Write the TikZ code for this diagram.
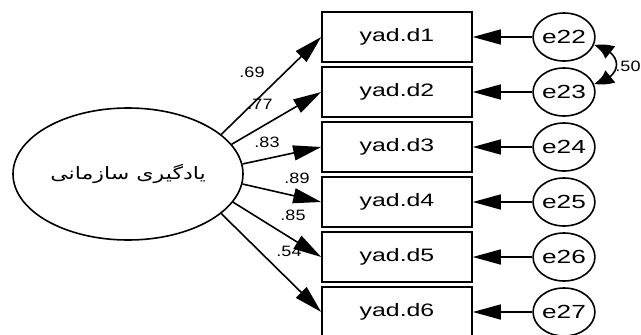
\documentclass[tikz,border=0pt]{standalone}
\usepackage{graphicx}
\usepackage{fontspec}
\setmainfont{Liberation Sans}
\newfontfamily\arabicfont[Script=Arabic]{DejaVu Sans}
\TeXXeTstate=1
\usetikzlibrary{arrows.meta,shapes.geometric,bending}
\newcommand\sxa[1]{\scalebox{1.38}[1]{#1}}
\newcommand\sxb[1]{\scalebox{1.2}[1]{#1}}
\begin{document}
\begin{tikzpicture}[x=1pt,y=-1pt,
  lat/.style={ellipse, draw, line width=1.6pt, minimum width=230pt, minimum height=132pt, inner sep=0pt},
  obs/.style={draw, line width=1.6pt, minimum width=150pt, minimum height=50pt, inner sep=0pt, font=\fontsize{18}{18}\selectfont},
  err/.style={ellipse, draw, line width=1.6pt, minimum width=56pt, minimum height=48pt, inner sep=0pt, font=\fontsize{19}{19}\selectfont},
  load/.style={line width=1.6pt, -{Triangle[length=28pt,width=15pt]}},
  coef/.style={inner sep=0pt, font=\fontsize{15}{15}\selectfont}]
\useasboundingbox (0,0) rectangle (641,335);
\node[lat] (lv) at (128,174) {\scalebox{1.3}[1]{\arabicfont\fontsize{17}{17}\selectfont\beginR یادگیری سازمانی\endR}};
\foreach \i/\y in {1/37,2/92,3/147,4/202,5/257,6/312}{
  \node[obs] (d\i) at (397,\y) {\sxa{yad.d\i}};
}
\foreach \i/\n/\y in {1/22/37,2/23/92,3/24/147,4/25/202,5/26/257,6/27/312}{
  \node[err] (e\n) at (564,\y) {\sxa{e\n}};
  \draw[load] (e\n) -- (d\i);
}
\draw[load] (lv.23.6) -- (d1.west);
\draw[load] (lv.16.6) -- (d2.west);
\draw[load] (lv.5.5) -- (d3.west);
\draw[load] (lv.-5.5) -- (d4.west);
\draw[load] (lv.-15.4) -- (d5.west);
\draw[load] (lv.-23.6) -- (d6.west);
\node[coef] (c1) at (252,72) {\sxb{.69}};
\node[coef] (c2) at (260,104) {\sxb{.77}};
\node[coef] (c3) at (267,142) {\sxb{.83}};
\node[coef] (c4) at (297,178) {\sxb{.89}};
\node[coef] (c5) at (293,215) {\sxb{.85}};
\node[coef] (c6) at (289,251) {\sxb{.54}};
\draw[line width=1.6pt, {Triangle[length=20pt,width=15pt,bend]}-{Triangle[length=20pt,width=15pt,bend]}]
  (e22.-15) .. controls (624,52) and (624,77) .. (e23.15);
\node[coef] (r) at (628,66) {\sxb{.50}};
\end{tikzpicture}
\end{document}
